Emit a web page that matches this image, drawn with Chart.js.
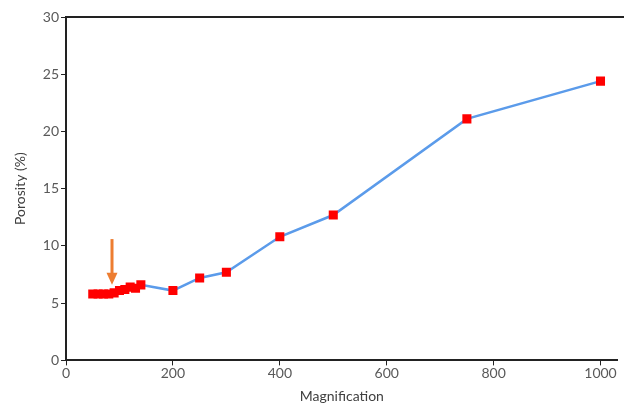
<!DOCTYPE html>
<html>
<head>
<meta charset="utf-8">
<script src="https://cdn.jsdelivr.net/npm/chart.js@4.4.1/dist/chart.umd.min.js"></script>
<style>
    html, body { margin: 0; padding: 0; background: #fff; }
    #wrap { width: 624px; height: 406px; position: relative; }
</style>
</head>
<body>
<div id="wrap"><canvas id="porosityChart"></canvas></div>
<script>
const magnification = [50, 60, 70, 80, 90, 100, 110, 120, 130, 140, 200, 250, 300, 400, 500, 750, 1000];
const porosity = [5.8, 5.8, 5.8, 5.8, 5.9, 6.1, 6.2, 6.4, 6.3, 6.6, 6.1, 7.2, 7.7, 10.8, 12.7, 21.1, 24.4];
const yTicks = [0, 5, 10, 15, 20, 25, 30];
const xTicks = [0, 200, 400, 600, 800, 1000];

// orange arrow marking the start of the plateau (data units)
const arrowX = [86, 86];
const arrowY = [10.6, 6.6];

const points = magnification.map((m, i) => ({ x: m, y: porosity[i] }));

const arrowPlugin = {
    id: 'arrow',
    afterDatasetsDraw(chart) {
        const { ctx, scales: { x, y } } = chart;
        const px = x.getPixelForValue(arrowX[0]);
        const y0 = y.getPixelForValue(arrowY[0]);
        const y1 = y.getPixelForValue(arrowY[1]);
        ctx.save();
        ctx.strokeStyle = '#ED7D31';
        ctx.fillStyle = '#ED7D31';
        ctx.lineWidth = 3;
        ctx.beginPath();
        ctx.moveTo(px, y0);
        ctx.lineTo(px, y1 - 9);
        ctx.stroke();
        ctx.beginPath();
        ctx.moveTo(px - 5.5, y1 - 12);
        ctx.lineTo(px + 5.5, y1 - 12);
        ctx.lineTo(px, y1);
        ctx.closePath();
        ctx.fill();
        ctx.restore();
    }
};

const framePlugin = {
    id: 'frame',
    afterDraw(chart) {
        const { ctx, chartArea } = chart;
        ctx.save();
        ctx.strokeStyle = '#222';
        ctx.lineWidth = 2;
        ctx.beginPath();
        ctx.moveTo(chartArea.left - 1, chartArea.top);
        ctx.lineTo(chartArea.right + 10, chartArea.top);
        ctx.stroke();
        ctx.restore();
    }
};

const fontFamily = 'Lato, "Open Sans", sans-serif';

new Chart(document.getElementById('porosityChart'), {
    type: 'scatter',
    data: {
        datasets: [
            {
                label: 'Porosity',
                data: points,
                showLine: true,
                borderColor: '#5B9BEA',
                borderWidth: 2.5,
                pointStyle: 'rect',
                pointRadius: 6.4,
                pointBorderWidth: 0,
                pointBackgroundColor: '#FF0000',
                pointBorderColor: '#FF0000',
            },
        ],
    },
    options: {
        responsive: true,
        maintainAspectRatio: false,
        animation: false,
        layout: { padding: { top: 17, right: 0, left: 12, bottom: 1 } },
        scales: {
            x: {
                type: 'linear',
                min: 0,
                max: 1032,
                afterBuildTicks: (axis) => { axis.ticks = xTicks.map(v => ({ value: v })); },
                ticks: {
                    includeBounds: false,
                    color: '#595959',
                    font: { family: fontFamily, size: 14 },
                    padding: 0,
                    maxRotation: 0,
                    callback: (v) => String(v),
                },
                grid: { drawOnChartArea: false, drawTicks: true, tickLength: 5, color: '#222' },
                border: { color: '#222', width: 2 },
                title: {
                    display: true,
                    text: 'Magnification',
                    color: '#404040',
                    font: { family: fontFamily, size: 14 },
                    padding: { top: 6, bottom: 0 },
                },
            },
            y: {
                min: 0,
                max: 30,
                afterBuildTicks: (axis) => { axis.ticks = yTicks.map(v => ({ value: v })); },
                ticks: {
                    color: '#595959',
                    font: { family: fontFamily, size: 14 },
                    padding: 2,
                },
                grid: { drawOnChartArea: false, drawTicks: true, tickLength: 5, color: '#222' },
                border: { color: '#222', width: 2 },
                title: {
                    display: true,
                    text: 'Porosity (%)',
                    color: '#404040',
                    font: { family: fontFamily, size: 14 },
                    padding: { top: 0, bottom: 12 },
                },
            },
        },
        plugins: {
            legend: { display: false },
            tooltip: { enabled: false },
        },
    },
    plugins: [arrowPlugin, framePlugin],
});
</script>
</body>
</html>
